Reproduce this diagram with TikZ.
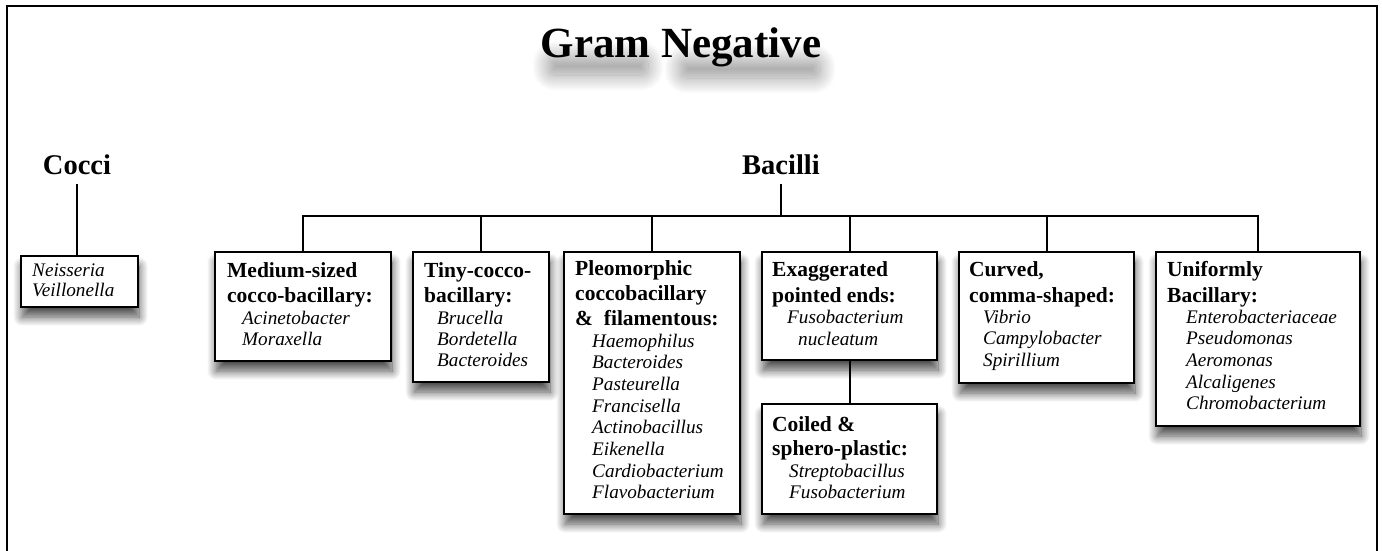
\documentclass[tikz,border=0pt]{standalone}
\usepackage{fontspec}
\setmainfont{Liberation Serif}
\usetikzlibrary{shadows.blur}
\tikzset{
  box/.style={draw=black, line width=2.2pt, fill=white, inner sep=0pt, anchor=north west,
    blur shadow={shadow xshift=1pt, shadow yshift=-10pt, shadow blur radius=9pt, shadow blur steps=14, shadow opacity=70}},
  bt/.style={font=\fontsize{21.5}{25}\selectfont\bfseries, anchor=base west, inner sep=0pt},
  it/.style={font=\fontsize{19.2}{22}\selectfont\itshape, anchor=base west, inner sep=0pt},
  conn/.style={line width=2pt},
  head/.style={font=\fontsize{28.5}{32}\selectfont\bfseries, inner sep=0pt, anchor=base, outer ysep=10pt},
  titlefont/.style={font=\fontsize{43}{50}\selectfont\bfseries, inner sep=0pt, anchor=base},
  tshade/.style={inner sep=0pt, rounded corners=6pt,
    blur shadow={shadow xshift=0pt, shadow yshift=0pt, shadow blur radius=16pt, shadow blur steps=24, shadow opacity=40}},
}
\begin{document}
\begin{tikzpicture}[x=1pt, y=-1pt]
\useasboundingbox (0,0) rectangle (1382,550);
% frame
\draw[line width=2.2pt] (7,560) -- (7,6) -- (1377,6) -- (1377,560);
% title with soft shadow
\node[tshade, minimum width=100pt, minimum height=18pt] (tshA) at (598,66) {};
\node[tshade, minimum width=140pt, minimum height=18pt] (tshB) at (750,69) {};
\node[titlefont] (title) at (681,57) {Gram Negative};
% headings
\node[head] (cocci) at (77,174) {Cocci};
\node[head] (bac) at (781,174) {Bacilli};
\coordinate (bar) at (782,216);
% boxes
\node[box, minimum width=117pt, minimum height=51pt] (neis) at (20,255) {};
\node[box, minimum width=176pt, minimum height=109pt] (med) at (214,251) {};
\node[box, minimum width=136pt, minimum height=130pt] (tiny) at (412,251) {};
\node[box, minimum width=176pt, minimum height=262pt] (pleo) at (563,251) {};
\node[box, minimum width=175pt, minimum height=108pt] (exag) at (761,251) {};
\node[box, minimum width=175pt, minimum height=110pt] (coil) at (761,403) {};
\node[box, minimum width=175pt, minimum height=131pt] (curv) at (958,251) {};
\node[box, minimum width=204pt, minimum height=174pt] (unif) at (1155,251) {};
% connectors
\draw[conn] (cocci.south) -- (cocci.south |- neis.north);
\draw[conn] (bac.south) -- (bac.south |- bar);
\draw[conn] (med.north) -- (med.north |- bar) -- (unif.north |- bar) -- (unif.north);
\draw[conn] (tiny.north) -- (tiny.north |- bar);
\draw[conn] (pleo.north) -- (pleo.north |- bar);
\draw[conn] (exag.north) -- (exag.north |- bar);
\draw[conn] (curv.north) -- (curv.north |- bar);
\draw[conn] (exag.south) -- (coil.north);
% texts
\foreach \t [count=\i] in {Neisseria, Veillonella}
  \node[it] (neist\i) at (32,{276+20*(\i-1)}) {\t};
\foreach \t [count=\i] in {Medium-sized, cocco-bacillary:}
  \node[bt] (medb\i) at (227,{277+25*(\i-1)}) {\t};
\foreach \t [count=\i] in {Acinetobacter, Moraxella}
  \node[it] (medi\i) at (242,{324+21*(\i-1)}) {\t};
\foreach \t [count=\i] in {Tiny-cocco-, bacillary:}
  \node[bt] (tinyb\i) at (424,{277+25*(\i-1)}) {\t};
\foreach \t [count=\i] in {Brucella, Bordetella, Bacteroides}
  \node[it] (tinyi\i) at (437,{324+21*(\i-1)}) {\t};
\foreach \t [count=\i] in {Pleomorphic, coccobacillary, {\&\ \ filamentous:}}
  \node[bt] (pleob\i) at (575,{275+25*(\i-1)}) {\t};
\foreach \t [count=\i] in {Haemophilus, Bacteroides, Pasteurella, Francisella, Actinobacillus, Eikenella, Cardiobacterium, Flavobacterium}
  \node[it] (pleoi\i) at (592,{347+21.7*(\i-1)}) {\t};
\foreach \t [count=\i] in {Exaggerated, pointed ends:}
  \node[bt] (exagb\i) at (772,{276+26*(\i-1)}) {\t};
\node[it] (exagi1) at (787,323) {Fusobacterium};
\node[it] (exagi2) at (798,345) {nucleatum};
\foreach \t [count=\i] in {Coiled \&, sphero-plastic:}
  \node[bt] (coilb\i) at (772,{431+24*(\i-1)}) {\t};
\foreach \t [count=\i] in {Streptobacillus, Fusobacterium}
  \node[it] (coili\i) at (789,{477+21.5*(\i-1)}) {\t};
\foreach \t [count=\i] in {{Curved,}, comma-shaped:}
  \node[bt] (curvb\i) at (969,{276+26*(\i-1)}) {\t};
\foreach \t [count=\i] in {Vibrio, Campylobacter, Spirillium}
  \node[it] (curvi\i) at (983,{323+21.7*(\i-1)}) {\t};
\foreach \t [count=\i] in {Uniformly, Bacillary:}
  \node[bt] (unifb\i) at (1167,{276+26*(\i-1)}) {\t};
\foreach \t [count=\i] in {Enterobacteriaceae, Pseudomonas, Aeromonas, Alcaligenes, Chromobacterium}
  \node[it] (unifi\i) at (1186,{323+21.7*(\i-1)}) {\t};
\end{tikzpicture}
\end{document}
